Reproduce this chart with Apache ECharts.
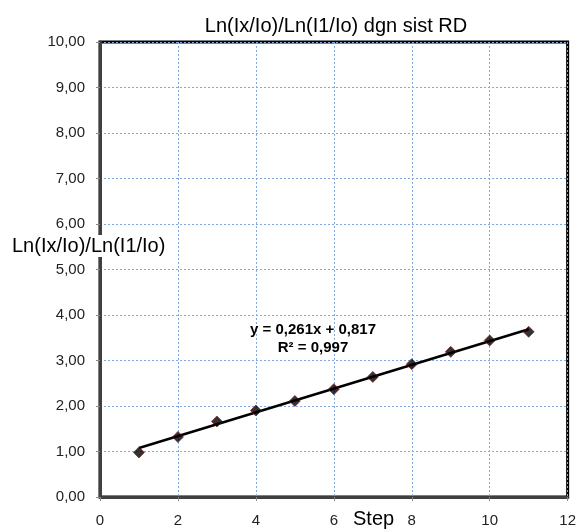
<!DOCTYPE html>
<html><head><meta charset="utf-8">
<script src="https://cdn.jsdelivr.net/npm/echarts@6/dist/echarts.min.js"></script>
<style>html,body{margin:0;padding:0;background:#fff}#c{width:579px;height:529px}</style>
</head><body><div id="c"></div>
<script>
const steps = [1, 2, 3, 4, 5, 6, 7, 8, 9, 10, 11];
const ratios = [0.98, 1.32, 1.66, 1.90, 2.11, 2.37, 2.64, 2.92, 3.19, 3.44, 3.63];
const trendX = [1, 11];
const trendY = [1.078, 3.688];
const titleText = 'Ln(Ix/Io)/Ln(I1/Io) dgn sist RD';
const yName = 'Ln(Ix/Io)/Ln(I1/Io)';
const xName = 'Step';
const eqLine1 = 'y = 0,261x + 0,817';
const eqLine2 = 'R² = 0,997';

const font = 'Liberation Sans, Arial, sans-serif';
const chart = echarts.init(document.getElementById('c'), null, {renderer: 'canvas'});
chart.setOption({
  animation: false,
  backgroundColor: '#fff',
  title: {text: titleText, left: 331, top: 11, textAlign: 'center',
    textStyle: {fontFamily: font, fontSize: 20, fontWeight: 'normal', color: '#000'}},
  grid: {left: 100, right: 8, top: 42, bottom: 32, show: true, borderColor: '#000', borderWidth: 3},
  xAxis: {type: 'value', min: 0, max: 12, interval: 2,
    axisLine: {onZero: false, lineStyle: {color: '#404040', width: 3}},
    axisTick: {show: true, length: 4, lineStyle: {color: '#888'}},
    axisLabel: {fontFamily: font, fontSize: 15, color: '#222', margin: 16},
    splitLine: {show: true, lineStyle: {color: '#7ea9e6', type: [2, 2], width: 1}}},
  yAxis: {type: 'value', min: 0, max: 10, interval: 1,
    axisLine: {show: true, onZero: false, lineStyle: {color: '#404040', width: 3}},
    axisTick: {show: true, length: 4, lineStyle: {color: '#888'}},
    axisLabel: {fontFamily: font, fontSize: 15, color: '#222', margin: 15,
      formatter: v => v.toFixed(2).replace('.', ',')},
    splitLine: {show: true, lineStyle: {color: '#7ea9e6', type: [2, 2], width: 1}}},
  series: [
    {type: 'line', data: trendX.map((x, i) => [x, trendY[i]]), symbol: 'none',
      lineStyle: {color: '#000', width: 2.5}, z: 2},
    {type: 'scatter', data: steps.map((x, i) => [x, ratios[i]]), symbol: 'diamond', symbolSize: 11,
      itemStyle: {color: '#000', borderColor: '#7a1010', borderWidth: 0.8}, z: 3}
  ],
  graphic: [
    {type: 'text', left: 11, top: 235, z: 10,
      style: {text: yName, font: '20px ' + font, fill: '#000', backgroundColor: '#fff', padding: [1, 1]}},
    {type: 'text', left: 353, top: 509, z: 10,
      style: {text: xName, font: '20px ' + font, fill: '#000'}},
    {type: 'text', x: 313, y: 321, z: 10,
      style: {text: eqLine1 + '\n' + eqLine2, font: 'bold 15px ' + font, fill: '#000',
        align: 'center', lineHeight: 18}}
  ]
});
</script></body></html>
